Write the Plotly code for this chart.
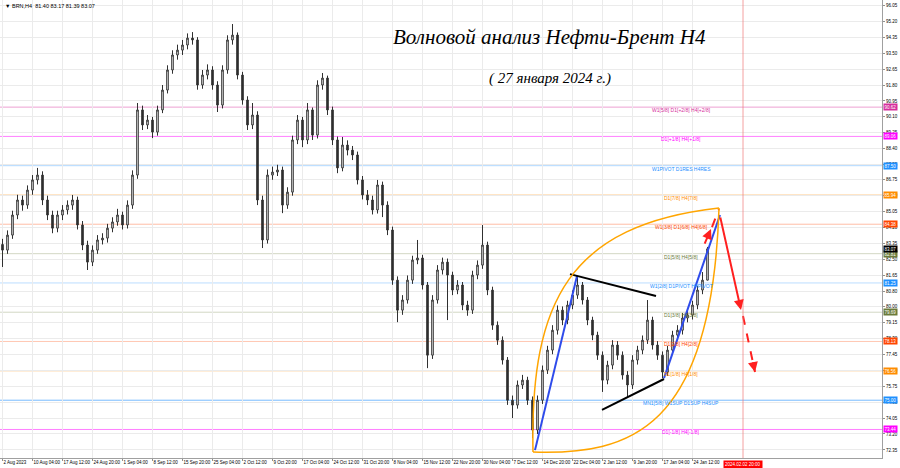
import plotly.graph_objects as go

# ---------------- data ----------------
bar_open = [83.30, 83.00, 83.80, 84.87, 85.67, 85.40, 86.20, 86.74, 87.00, 85.67,
            84.87, 84.17, 84.87, 85.14, 85.40, 85.67, 84.34, 83.27, 82.36, 83.00,
            83.54, 83.64, 84.17, 84.50, 84.87, 84.34, 85.40, 87.00, 90.47, 89.67,
            89.93, 89.29, 90.47, 91.53, 92.60, 93.40, 93.66, 93.93, 94.30, 94.20,
            91.80, 92.33, 92.60, 91.80, 90.73, 92.60, 94.20, 94.46, 92.33, 91.00,
            89.67, 90.20, 85.67, 83.54, 87.00, 87.16, 87.27, 85.40, 86.09, 88.87,
            89.93, 88.87, 90.47, 89.13, 91.80, 92.17, 90.47, 88.87, 87.38, 88.60,
            88.33, 88.07, 86.74, 85.94, 85.67, 85.14, 86.47, 85.40, 84.07, 81.40,
            79.80, 80.34, 81.40, 82.47, 82.58, 81.14, 77.40, 80.34, 81.94, 82.36,
            81.67, 80.87, 81.14, 80.07, 79.80, 81.67, 82.20, 83.27, 80.87, 79.00,
            78.20, 77.14, 75.00, 74.74, 75.81, 76.07, 75.00, 73.41, 75.00, 76.60,
            77.67, 78.73, 79.80, 79.27, 80.07, 80.60, 81.14, 80.34, 79.27, 78.47,
            77.40, 76.07, 76.87, 77.94, 77.40, 76.34, 75.81, 77.14, 77.67, 78.20,
            79.27, 77.94, 77.40, 76.50, 77.67, 78.47, 78.73, 79.38, 79.54, 80.07,
            80.87, 81.40]
bar_high = [83.60, 84.05, 85.10, 85.95, 85.90, 86.45, 87.00, 87.38, 87.20, 85.90,
            85.10, 85.10, 85.40, 85.65, 85.94, 85.85, 84.55, 83.50, 83.25, 83.80,
            83.90, 84.40, 84.75, 85.20, 85.05, 85.65, 87.25, 90.84, 90.70, 90.20,
            90.10, 90.70, 91.80, 92.85, 93.65, 93.95, 94.20, 94.55, 94.62, 94.35,
            92.60, 92.90, 92.80, 92.00, 92.85, 94.45, 95.05, 94.60, 92.50, 91.20,
            90.84, 90.40, 85.90, 87.30, 87.45, 87.55, 87.45, 86.35, 89.10, 90.20,
            90.10, 90.84, 90.60, 92.05, 92.44, 92.30, 90.65, 89.05, 89.03, 88.85,
            88.55, 88.25, 86.95, 86.20, 85.90, 86.74, 86.65, 85.60, 84.25, 81.60,
            80.60, 81.65, 82.70, 83.54, 82.75, 81.30, 80.60, 82.20, 82.60, 82.55,
            81.85, 81.40, 81.30, 80.30, 81.90, 82.45, 84.34, 83.45, 81.05, 79.20,
            78.40, 77.30, 75.25, 76.05, 76.35, 76.25, 75.20, 75.25, 76.85, 77.90,
            79.00, 80.05, 80.00, 80.30, 80.85, 81.62, 81.30, 80.50, 79.45, 78.65,
            77.60, 77.10, 78.20, 78.15, 77.60, 76.55, 77.40, 77.90, 78.45, 80.34,
            79.45, 78.15, 77.60, 77.90, 78.70, 79.00, 79.65, 79.80, 80.30, 81.10,
            81.83, 83.17]
bar_low = [82.10, 82.80, 83.60, 84.65, 85.10, 85.20, 85.95, 86.50, 85.40, 84.60,
           83.90, 83.95, 84.60, 84.90, 85.15, 84.10, 83.00, 81.94, 82.15, 82.80,
           83.30, 83.40, 83.95, 84.30, 84.10, 84.15, 85.20, 86.80, 89.40, 89.45,
           88.97, 89.10, 90.30, 91.35, 92.40, 93.15, 93.40, 93.70, 93.95, 91.55,
           91.60, 92.10, 91.55, 90.36, 90.55, 92.40, 93.95, 92.10, 90.75, 89.40,
           89.45, 85.40, 83.11, 83.35, 86.75, 86.95, 84.97, 85.20, 85.90, 88.65,
           88.49, 88.65, 88.87, 88.95, 91.55, 90.20, 88.60, 87.10, 87.20, 88.05,
           87.80, 86.50, 85.70, 85.40, 84.90, 84.95, 84.76, 83.80, 81.15, 79.16,
           79.55, 80.15, 81.20, 82.25, 80.90, 76.71, 77.20, 80.15, 81.70, 79.27,
           80.60, 80.65, 79.80, 79.50, 79.60, 81.45, 82.00, 80.60, 78.75, 77.95,
           76.90, 74.75, 74.05, 74.55, 75.60, 74.75, 72.98, 73.20, 74.80, 76.40,
           77.45, 78.50, 79.00, 79.05, 79.85, 80.40, 80.10, 79.00, 78.20, 77.15,
           75.44, 75.85, 76.65, 77.15, 76.10, 75.17, 75.60, 76.90, 77.45, 78.00,
           77.70, 77.15, 76.18, 76.30, 77.45, 78.25, 78.50, 79.15, 79.30, 79.85,
           80.65, 81.39]
bar_close = [83.00, 83.80, 84.87, 85.67, 85.40, 86.20, 86.74, 87.00, 85.67, 84.87,
             84.17, 84.87, 85.14, 85.40, 85.67, 84.34, 83.27, 82.36, 83.00, 83.54,
             83.64, 84.17, 84.50, 84.87, 84.34, 85.40, 87.00, 90.47, 89.67, 89.93,
             89.29, 90.47, 91.53, 92.60, 93.40, 93.66, 93.93, 94.30, 94.20, 91.80,
             92.33, 92.60, 91.80, 90.73, 92.60, 94.20, 94.46, 92.33, 91.00, 89.67,
             90.20, 85.67, 83.54, 87.00, 87.16, 87.27, 85.40, 86.09, 88.87, 89.93,
             88.87, 90.47, 89.13, 91.80, 92.17, 90.47, 88.87, 87.38, 88.60, 88.33,
             88.07, 86.74, 85.94, 85.67, 85.14, 86.47, 85.40, 84.07, 81.40, 79.80,
             80.34, 81.40, 82.47, 82.58, 81.14, 77.40, 80.34, 81.94, 82.36, 81.67,
             80.87, 81.14, 80.07, 79.80, 81.67, 82.20, 83.27, 80.87, 79.00, 78.20,
             77.14, 75.00, 74.74, 75.81, 76.07, 75.00, 73.41, 75.00, 76.60, 77.67,
             78.73, 79.80, 79.27, 80.07, 80.60, 81.14, 80.34, 79.27, 78.47, 77.40,
             76.07, 76.87, 77.94, 77.40, 76.34, 75.81, 77.14, 77.67, 78.20, 79.27,
             77.94, 77.40, 76.50, 77.67, 78.47, 78.73, 79.38, 79.54, 80.07, 80.87,
             81.40, 83.07]

# price-axis labels
price_ticks = [96.05, 95.20, 94.35, 93.50, 92.65, 91.80, 90.95, 90.10, 89.25, 88.40,
               87.55, 86.75, 85.90, 85.05, 84.20, 83.35, 82.50, 81.65, 80.80, 80.00,
               79.15, 78.30, 77.45, 76.60, 75.75, 74.90, 74.05, 73.20, 72.35]

# time-axis labels (bar index of each label)
date_pos = [0, 6, 12, 18, 24, 30, 36, 42, 48, 54, 60, 66, 72, 78, 84, 90, 96, 102,
            108, 114, 120, 126, 132, 138]
date_text = ["2 Aug 2023", "10 Aug 04:00", "17 Aug 12:00", "24 Aug 20:00", "1 Sep 04:00",
             "8 Sep 12:00", "15 Sep 20:00", "25 Sep 04:00", "2 Oct 12:00", "9 Oct 20:00",
             "17 Oct 04:00", "24 Oct 12:00", "31 Oct 20:00", "8 Nov 04:00", "15 Nov 12:00",
             "22 Nov 20:00", "30 Nov 04:00", "7 Dec 12:00", "14 Dec 20:00", "22 Dec 04:00",
             "2 Jan 12:00", "9 Jan 20:00", "17 Jan 04:00", "24 Jan 12:00"]

# Murrey-math levels
level_values = [90.62, 89.06, 87.50, 85.94, 84.38, 82.81, 81.25, 79.69, 78.13, 76.56, 75.00, 73.44]
level_names = ["W1[5/8] D1[+2/8] H4[+2/8]", "D1[+1/8] H4[+1/8]", "W1PIVOT D1RES H4RES",
               "D1[7/8] H4[7/8]", "W1[3/8] D1[6/8] H4[6/8]", "D1[5/8] H4[5/8]",
               "W1[2/8] D1PIVOT H4PIVOT", "D1[3/8] H4[3/8]", "D1[2/8] H4[2/8]",
               "D1[1/8] H4[1/8]", "MN1[5/8] W1SUP D1SUP H4SUP", "D1[-1/8] H4[-1/8]"]
level_colors = ["#D62E9C", "#FF00FF", "#1E90FF", "#FF8C00", "#FF4500", "#6B7B3A",
                "#1E90FF", "#6B7B3A", "#FF4500", "#FF8C00", "#1E90FF", "#FF00FF"]
level_line_alpha = [0.45, 0.5, 0.35, 0.4, 0.35, 0.3, 0.3, 0.3, 0.3, 0.35, 0.6, 0.5]

last_price = 83.07
future_bar = 148.1
future_label = "2024.02.02 20:00"

# wave drawings (bar index, price)
blue_lines = [((106.5, 72.34), (114.9, 81.62)), ((132.3, 76.18), (143.5, 84.87))]
black_lines = [((113.5, 81.72), (130.7, 80.55)), ((119.9, 74.48), (132.3, 76.13))]
arc_upper = [(106.1, 72.24), (105.5, 80.34), (113.5, 84.34), (143.3, 85.24)]
arc_lower = [(106.1, 72.24), (125.5, 72.07), (141.9, 73.41), (143.3, 85.24)]
red_solid = [((140.3, 83.27), (141.7, 84.12)), ((143.5, 84.82), (147.7, 79.81))]
red_dashed = [((141.9, 84.23), (143.3, 85.19)), ((148.1, 79.49), (150.5, 76.50))]

title_main = "Волновой анализ Нефти-Брент H4"
title_date = "( 27 января 2024 г.)"
info_text = "▼ BRN,H4  81.40 83.17 81.39 83.07"

# ---------------- figure ----------------
PLOT_W = 882.0
PLOT_H = 458.0
x_idx = list(range(len(bar_close)))
fig = go.Figure()
fig.add_trace(go.Candlestick(
    x=x_idx, open=bar_open, high=bar_high, low=bar_low, close=bar_close,
    increasing=dict(line=dict(color="#303030", width=1), fillcolor="#FFFFFF"),
    decreasing=dict(line=dict(color="#303030", width=1), fillcolor="#303030"),
    whiskerwidth=0, showlegend=False, hoverinfo="skip"))

shapes = []
annotations = []

def rgba(hexc, a):
    h = hexc.lstrip("#")
    return "rgba(%d,%d,%d,%.2f)" % (int(h[0:2], 16), int(h[2:4], 16), int(h[4:6], 16), a)

SMALL = "Liberation Sans"
for v, name, c, a in zip(level_values, level_names, level_colors, level_line_alpha):
    shapes.append(dict(type="line", xref="paper", yref="y", x0=0, x1=1, y0=v, y1=v,
                       line=dict(color=rgba(c, a), width=1), layer="below"))
    annotations.append(dict(x=135.7, y=v, xref="x", yref="y", text=name, showarrow=False,
                            font=dict(size=5, color=c, family=SMALL),
                            yshift=-3, xanchor="center", yanchor="middle"))
    annotations.append(dict(x=1, y=v, xref="paper", yref="y", text="%.2f" % v, showarrow=False,
                            xanchor="left", yanchor="middle", xshift=1, bgcolor=c, borderpad=0.5,
                            font=dict(size=4.5, color="white", family=SMALL)))

annotations.append(dict(x=1, y=last_price, xref="paper", yref="y", text="%.2f" % last_price,
                        showarrow=False, xanchor="left", yanchor="middle", xshift=1,
                        bgcolor="#000000", borderpad=0.5,
                        font=dict(size=4.5, color="white", family=SMALL)))

# future vertical line
shapes.append(dict(type="line", xref="x", yref="paper", x0=future_bar, x1=future_bar, y0=0, y1=1,
                   line=dict(color="rgba(240,120,120,0.7)", width=1)))
annotations.append(dict(x=future_bar, y=0, xref="x", yref="paper", text=future_label, showarrow=False,
                        yanchor="top", yshift=-2, bgcolor="#FF0000", borderpad=1,
                        font=dict(size=4.5, color="white", family=SMALL)))

# orange arcs
for p in (arc_upper, arc_lower):
    path = "M %s,%s C %s,%s %s,%s %s,%s" % (p[0][0], p[0][1], p[1][0], p[1][1],
                                            p[2][0], p[2][1], p[3][0], p[3][1])
    shapes.append(dict(type="path", xref="x", yref="y", path=path,
                       line=dict(color="#FFA500", width=1.5)))

for (a, b) in blue_lines:
    fig.add_trace(go.Scatter(x=[a[0], b[0]], y=[a[1], b[1]], mode="lines",
                             line=dict(color="#2E4BEB", width=2), showlegend=False, hoverinfo="skip"))
for (a, b) in black_lines:
    fig.add_trace(go.Scatter(x=[a[0], b[0]], y=[a[1], b[1]], mode="lines",
                             line=dict(color="#000000", width=2), showlegend=False, hoverinfo="skip"))

for (a, b) in red_solid:
    annotations.append(dict(x=b[0], y=b[1], ax=a[0], ay=a[1], xref="x", yref="y", axref="x", ayref="y",
                            showarrow=True, arrowhead=2, arrowsize=1, arrowwidth=2,
                            arrowcolor="#FF2020", text=""))
for (a, b) in red_dashed:
    fig.add_trace(go.Scatter(x=[a[0], b[0]], y=[a[1], b[1]], mode="lines",
                             line=dict(color="#FF2020", width=2, dash="dash"),
                             showlegend=False, hoverinfo="skip"))
    annotations.append(dict(x=b[0], y=b[1], ax=a[0] * 0.2 + b[0] * 0.8, ay=a[1] * 0.2 + b[1] * 0.8,
                            xref="x", yref="y", axref="x", ayref="y",
                            showarrow=True, arrowhead=2, arrowsize=1, arrowwidth=2,
                            arrowcolor="#FF2020", text=""))

# titles
annotations.append(dict(x=549 / PLOT_W, y=1 - 37 / PLOT_H, xref="paper", yref="paper", text=title_main,
                        showarrow=False, xanchor="center", yanchor="middle",
                        font=dict(size=21, color="#000000", family="Liberation Serif", style="italic")))
annotations.append(dict(x=550 / PLOT_W, y=1 - 78 / PLOT_H, xref="paper", yref="paper", text=title_date,
                        showarrow=False, xanchor="center", yanchor="middle",
                        font=dict(size=15, color="#000000", family="Liberation Serif", style="italic")))
annotations.append(dict(x=0.003, y=0.997, xref="paper", yref="paper", text=info_text,
                        showarrow=False, xanchor="left", yanchor="top",
                        font=dict(size=5.5, color="#000000", family=SMALL)))

fig.update_layout(
    width=900, height=468,
    margin=dict(l=0, r=18, t=0, b=10, autoexpand=False),
    paper_bgcolor="white", plot_bgcolor="white",
    shapes=shapes, annotations=annotations,
    showlegend=False,
    boxgap=0.55,
    xaxis=dict(range=[-0.5, (PLOT_W - 2.5) / 5], rangeslider=dict(visible=False),
               tickvals=date_pos, ticktext=date_text, ticklabelposition="outside right",
               tickangle=0, automargin=False,
               tickfont=dict(size=4.5, color="#000000", family=SMALL),
               showgrid=True, gridcolor="#EBEBEB", gridwidth=1,
               ticks="outside", ticklen=2, tickcolor="#909090",
               showline=True, linecolor="#A0A0A0", mirror=True, zeroline=False,
               fixedrange=True),
    yaxis=dict(range=[71.92, 96.33], side="right", automargin=False,
               tickvals=price_ticks, ticktext=["%.2f" % t for t in price_ticks],
               tickfont=dict(size=4.5, color="#000000", family=SMALL),
               showgrid=True, gridcolor="#EBEBEB", gridwidth=1,
               ticks="outside", ticklen=2, tickcolor="#909090",
               showline=True, linecolor="#A0A0A0", mirror=True, zeroline=False,
               fixedrange=True),
)

fig.write_html("out.html", config={"staticPlot": True},
               post_script="document.body.style.margin='0';document.body.style.overflow='hidden';")
